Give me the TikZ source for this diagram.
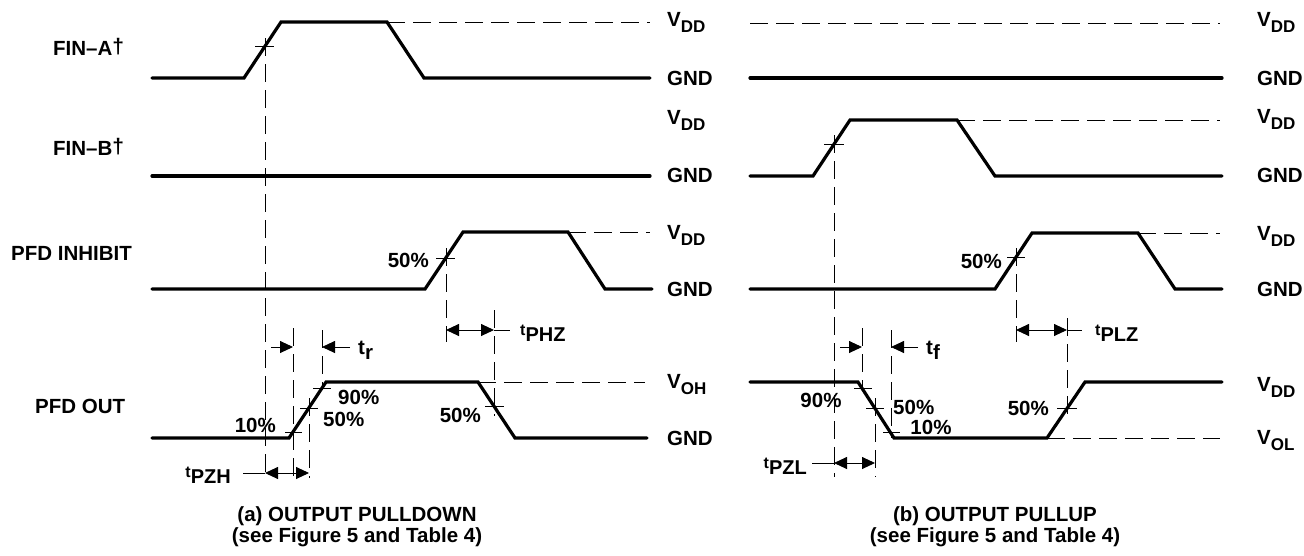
\documentclass[tikz,border=0pt]{standalone}
\usepackage{fontspec}
\setmainfont{Liberation Sans}
\usetikzlibrary{arrows.meta}

\newcommand{\lblfont}{\fontsize{20.5}{24}\selectfont\bfseries}
\newcommand{\capfont}{\fontsize{20.5}{21}\selectfont\bfseries}
\newcommand{\volt}[1]{V\raisebox{-6pt}{\fontsize{17}{18}\selectfont #1}}
\newcommand{\tdel}[1]{{\fontsize{16}{16}\selectfont t}\raisebox{-6pt}{\fontsize{20}{20}\selectfont #1}}
\newcommand{\tedge}[1]{t\raisebox{-5pt}{#1}}
\newcommand{\dagg}{\raisebox{2pt}{\fontsize{21}{22}\selectfont †}}

\tikzset{
  sig/.style={line width=3.2pt, line cap=round, line join=miter},
  ref/.style={line width=0.9pt, dash pattern=on 18pt off 8pt},
  tickmark/.style={line width=0.9pt},
  dim/.style={line width=0.9pt},
  lbl/.style={font=\lblfont, inner sep=0pt},
  captxt/.style={font=\capfont, inner sep=0pt, align=center},
  >={Triangle[length=13pt,width=12pt]}
}

\begin{document}
\begin{tikzpicture}[x=1pt, y=-1pt]
    \useasboundingbox (0,0) rectangle (1304,555);

    % Signal names
    \node (nFA) at (53,47) [lbl, right] {FIN–A\dagg};
    \node (nFB) at (53,147) [lbl, right] {FIN–B\dagg};
    \node (nPI) at (11,253) [lbl, right] {PFD INHIBIT};
    \node (nPO) at (35,406) [lbl, right] {PFD OUT};

    % (a) Output pulldown
    % Timing references
    \draw[ref] (265,38) -- (265,478);
    \draw[ref] (293,328) -- (293,478);
    \draw[ref] (309,398) -- (309,478);
    \draw[ref] (322,330) -- (322,388);
    \draw[ref] (446,248) -- (446,342);
    \draw[ref] (494,310) -- (494,416);

    % FIN-A
    \draw[sig] (152,78) -- (244,78) -- (281,22) -- (387,22) -- (424,78) -- (650,78);
    \draw[ref] (387,22) -- (650,22);
    \draw[tickmark] (255,46) -- (274,46);

    % FIN-B
    \draw[sig] (152,176) -- (650,176);

    % PFD INHIBIT
    \draw[sig] (152,289) -- (425,289) -- (463,232) -- (568,232) -- (605,289) -- (652,289);
    \draw[ref] (568,232) -- (650,232);
    \draw[tickmark] (436,258) -- (455,258);
    \node (pA1) at (429,260) [lbl, left] {50\%};

    % PFD OUT
    \draw[sig] (152,438) -- (289,438) -- (326,382) -- (478,382) -- (515,438) -- (647,438);
    \draw[ref] (478,382) -- (645,382);
    \draw[tickmark] (285,432) -- (302,432);
    \draw[tickmark] (300,408) -- (318,408);
    \draw[tickmark] (313,388) -- (331,388);
    \draw[tickmark] (485,406) -- (504,406);
    \node (pA2) at (276,425) [lbl, left] {10\%};
    \node (pA3) at (338,397) [lbl, right] {90\%};
    \node (pA4) at (323,419) [lbl, right] {50\%};
    \node (pA5) at (481,415) [lbl, left] {50\%};

    % Delays
    \draw[dim, ->] (271,347) -- (293,347);
    \draw[dim, ->] (350,347) -- (322,347);
    \node (tr) at (358,350) [lbl, right] {\tedge{r}};
    \draw[dim, <->] (446,330) -- (494,330);
    \draw[dim] (494,330) -- (510,330);
    \node (tPHZ) at (520,333) [lbl, right] {\tdel{PHZ}};
    \draw[dim, <->] (265,473) -- (309,473);
    \draw[dim] (243,473) -- (265,473);
    \node (tPZH) at (231,475) [lbl, left] {\tdel{PZH}};

    % Levels
    \node (vA1) at (667,22) [lbl, right] {\volt{DD}};
    \node (gA1) at (667,78) [lbl, right] {GND};
    \node (vA2) at (667,120) [lbl, right] {\volt{DD}};
    \node (gA2) at (667,175) [lbl, right] {GND};
    \node (vA3) at (667,235) [lbl, right] {\volt{DD}};
    \node (gA3) at (667,289) [lbl, right] {GND};
    \node (vA4) at (667,385) [lbl, right] {\volt{OH}};
    \node (gA4) at (667,438) [lbl, right] {GND};

    \node (capA) at (357,527) [captxt] {(a) OUTPUT PULLDOWN\\(see Figure 5 and Table 4)};

    % (b) Output pullup
    % Timing references
    \draw[ref] (834,135) -- (834,477);
    \draw[ref] (862,328) -- (862,388);
    \draw[ref] (891,330) -- (891,438);
    \draw[ref] (875,398) -- (875,477);
    \draw[ref] (1016,248) -- (1016,342);
    \draw[ref] (1067,318) -- (1067,418);

    % FIN-A
    \draw[sig] (750,78) -- (1222,78);
    \draw[ref] (750,23) -- (1220,23);

    % FIN-B
    \draw[sig] (750,176) -- (813,176) -- (850,120) -- (957,120) -- (995,176) -- (1222,176);
    \draw[ref] (957,120) -- (1220,120);
    \draw[tickmark] (824,144) -- (844,144);

    % PFD INHIBIT
    \draw[sig] (750,289) -- (995,289) -- (1032,233) -- (1138,233) -- (1175,289) -- (1222,289);
    \draw[ref] (1138,233) -- (1220,233);
    \draw[tickmark] (1007,257) -- (1025,257);
    \node (pB1) at (1002,261) [lbl, left] {50\%};

    % PFD OUT
    \draw[sig] (750,382) -- (858,382) -- (894,438) -- (1047,438) -- (1085,382) -- (1222,382);
    \draw[ref] (1047,438) -- (1220,438);
    \draw[tickmark] (854,388) -- (872,388);
    \draw[tickmark] (866,408) -- (884,408);
    \draw[tickmark] (883,432) -- (900,432);
    \draw[tickmark] (1057,408) -- (1077,408);
    \node (pB2) at (821,400) [lbl] {90\%};
    \node (pB3) at (893,407) [lbl, right] {50\%};
    \node (pB4) at (931,427) [lbl] {10\%};
    \node (pB5) at (1049,408) [lbl, left] {50\%};

    % Delays
    \draw[dim, ->] (840,347) -- (862,347);
    \draw[dim, ->] (918,347) -- (891,347);
    \node (tf) at (926,350) [lbl, right] {\tedge{f}};
    \draw[dim, <->] (1016,330) -- (1067,330);
    \draw[dim] (1067,330) -- (1082,330);
    \node (tPLZ) at (1095,333) [lbl, right] {\tdel{PLZ}};
    \draw[dim, <->] (834,463) -- (875,463);
    \draw[dim] (812,463) -- (834,463);
    \node (tPZL) at (807,466) [lbl, left] {\tdel{PZL}};

    % Levels
    \node (vB1) at (1257,22) [lbl, right] {\volt{DD}};
    \node (gB1) at (1257,78) [lbl, right] {GND};
    \node (vB2) at (1257,119) [lbl, right] {\volt{DD}};
    \node (gB2) at (1257,175) [lbl, right] {GND};
    \node (vB3) at (1257,236) [lbl, right] {\volt{DD}};
    \node (gB3) at (1257,289) [lbl, right] {GND};
    \node (vB4) at (1257,387) [lbl, right] {\volt{DD}};
    \node (vB5) at (1257,441) [lbl, right] {\volt{OL}};

    \node (capB) at (995,527) [captxt] {(b) OUTPUT PULLUP\\(see Figure 5 and Table 4)};
\end{tikzpicture}
\end{document}
